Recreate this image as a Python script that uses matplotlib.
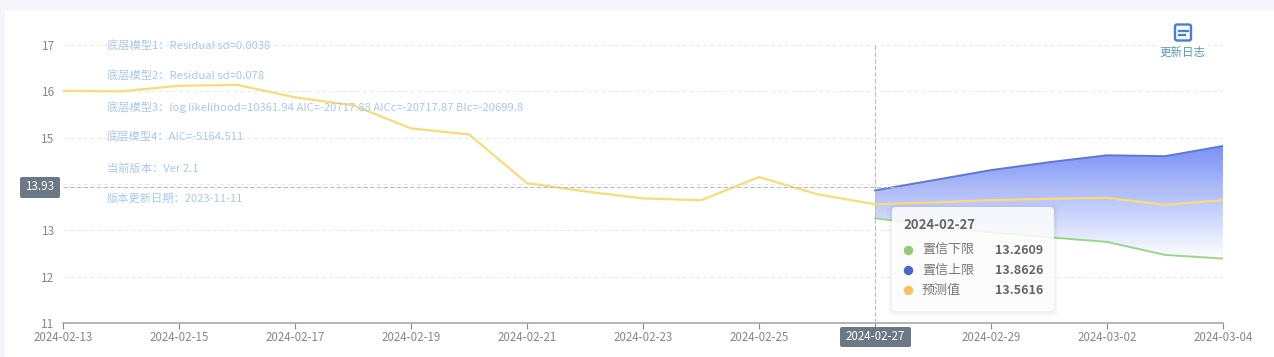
import matplotlib
matplotlib.use("Agg")
import matplotlib.pyplot as plt
import numpy as np
from matplotlib.colors import LinearSegmentedColormap
from matplotlib.patches import FancyBboxPatch, Rectangle

plt.rcParams["font.family"] = ["Noto Sans CJK SC", "DejaVu Sans"]

W, H = 1274, 357

dates = ["2024-02-13", "2024-02-14", "2024-02-15", "2024-02-16", "2024-02-17",
         "2024-02-18", "2024-02-19", "2024-02-20", "2024-02-21", "2024-02-22",
         "2024-02-23", "2024-02-24", "2024-02-25", "2024-02-26", "2024-02-27",
         "2024-02-28", "2024-02-29", "2024-03-01", "2024-03-02", "2024-03-03",
         "2024-03-04"]
forecast = [16.01, 16.00, 16.12, 16.14, 15.87, 15.70, 15.20, 15.07, 14.02, 13.84,
            13.69, 13.65, 14.15, 13.78, 13.5616, 13.60, 13.65, 13.68, 13.70, 13.55,
            13.65]
band_dates = dates[14:]
upper = [13.8626, 14.08, 14.30, 14.47, 14.62, 14.60, 14.82]
lower = [13.2609, 13.10, 12.96, 12.85, 12.75, 12.47, 12.39]

yticks = [11, 12, 13, 14, 15, 16, 17]
# the 14 label sits under the 13.93 pointer tag in the original
ylabels = ["11", "12", "13", "", "15", "16", "17"]
hover_date = "2024-02-27"
hover_y = 13.93

notes = ["底层模型1：Residual sd=0.0038",
         "底层模型2：Residual sd=0.078",
         "底层模型3：log likelihood=10361.94 AIC=-20717.88 AICc=-20717.87 BIc=-20699.8",
         "底层模型4：AIC=-5164.511",
         "当前版本：Ver 2.1",
         "版本更新日期：2023-11-11"]
note_rows = [46.5, 76.5, 107.5, 137.5, 168.5, 198.5]

tooltip_names = ["置信下限", "置信上限", "预测值"]
tooltip_values = ["13.2609", "13.8626", "13.5616"]
tooltip_colors = ["#91cc75", "#4a67c9", "#fac05e"]

fig = plt.figure(figsize=(W / 100, H / 100), dpi=100, facecolor="#f4f6fb")

# pixel-coordinate layer for the page background and overlays
bg = fig.add_axes([0, 0, 1, 1], zorder=0)
bg.set_xlim(0, W)
bg.set_ylim(H, 0)
bg.axis("off")
bg.add_patch(Rectangle((5, 11), W - 5, H - 11, fc="white", ec="none"))

ax = fig.add_axes([63 / W, 1 - 323 / H, 1160 / W, 278 / H], zorder=1)
ax.patch.set_alpha(0)
x = np.arange(len(dates))
bx = x[14:]
ax.set_xlim(0, len(dates) - 1)
ax.set_ylim(11, 17)
for s in ["top", "right", "left"]:
    ax.spines[s].set_visible(False)
ax.spines["bottom"].set_color("#a6a9ad")
ax.spines["bottom"].set_linewidth(1.2)
ax.set_xticks(x[::2])
ax.set_xticklabels(dates[::2], fontsize=8.3, color="#85888c")
ax.set_yticks(yticks)
ax.set_yticklabels(ylabels, fontsize=8.5, color="#85888c")
ax.tick_params(axis="x", length=4, width=0.8, color="#85888c", pad=2)
ax.tick_params(axis="y", length=0, pad=6)
for lbl in ax.get_yticklabels():
    lbl.set_y(lbl.get_position()[1])
ax.grid(axis="y", color="#e6e9ec", linestyle=(0, (4, 3)), linewidth=0.7)
ax.set_axisbelow(True)

# band with a vertical gradient, clipped to the area between the limits
cmap = LinearSegmentedColormap.from_list("band", ["#7a92f6", "#ffffff"])
band = ax.fill_between(bx, lower, upper, color="none")
grad = ax.imshow(np.linspace(0, 1, 256)[:, None], cmap=cmap, aspect="auto",
                 extent=[bx[0], bx[-1], min(lower), max(upper)], zorder=1.5)
grad.set_clip_path(band.get_paths()[0], transform=ax.transData)
ax.set_xlim(0, len(dates) - 1)
ax.set_ylim(11, 17)

ax.plot(bx, lower, color="#9ad58a", lw=1.4, zorder=3)
ax.plot(bx, upper, color="#5f78d6", lw=1.4, zorder=3)
ax.plot(x, forecast, color="#f9dc78", lw=1.6, zorder=4)

ax.axhline(hover_y, color="#b9bcc0", lw=0.8, linestyle=(0, (4, 2)), zorder=5)
ax.axvline(dates.index(hover_date), color="#b9bcc0", lw=0.8, linestyle=(0, (4, 2)), zorder=5)

# overlay: notes, axis pointer labels, tooltip, icon
top = fig.add_axes([0, 0, 1, 1], zorder=2)
top.set_xlim(0, W)
top.set_ylim(H, 0)
top.axis("off")

for note, row in zip(notes, note_rows):
    top.text(107, row, note, fontsize=8.1, color="#a9c8ee", va="center", ha="left")

top.add_patch(FancyBboxPatch((20, 177), 40, 21, boxstyle="round,pad=0,rounding_size=2",
                             fc="#6a7985", ec="none"))
top.text(40, 186.5, f"{hover_y:.2f}", fontsize=8.4, color="white", ha="center", va="center")
top.add_patch(FancyBboxPatch((840, 327), 71, 20, boxstyle="round,pad=0,rounding_size=2",
                             fc="#6a7985", ec="none"))
top.text(875.5, 337, hover_date, fontsize=8.3, color="white", ha="center", va="center")

# tooltip with a soft shadow
for grow, alpha in [(5, 0.012), (3, 0.018), (1.5, 0.025)]:
    top.add_patch(FancyBboxPatch((892 - grow, 207 - grow + 1), 162 + 2 * grow, 104 + 2 * grow,
                                 boxstyle="round,pad=0,rounding_size=5",
                                 fc="black", ec="none", alpha=alpha))
top.add_patch(FancyBboxPatch((892, 207), 162, 104, boxstyle="round,pad=0,rounding_size=4",
                             fc="white", ec="none", alpha=0.86))
top.text(903, 225, hover_date, fontsize=9.5, color="#666666", fontweight="bold", va="center")
for i, (name, val, col) in enumerate(zip(tooltip_names, tooltip_values, tooltip_colors)):
    row = 250 + i * 20
    top.plot([907.5], [row], "o", ms=6.8, color=col, mew=0)
    top.text(922, row, name, fontsize=9.4, color="#777777", va="center")
    top.text(1043, row, val, fontsize=9, color="#666666", fontweight="bold",
             va="center", ha="right")

# update-log icon, on a white patch that interrupts the 17 grid line
top.add_patch(Rectangle((1158, 22), 50, 38, fc="white", ec="none"))
top.add_patch(FancyBboxPatch((1175, 24.5), 16, 16, boxstyle="round,pad=0,rounding_size=2",
                             fc="#f5f8fd", ec="#4a7fd0", lw=1.7))
top.plot([1178.5, 1187.5], [30.5, 30.5], color="#4a7fd0", lw=1.6)
top.plot([1178.5, 1184.5], [34.5, 34.5], color="#4a7fd0", lw=1.6)
top.text(1182.5, 52.5, "更新日志", fontsize=8.3, color="#5b9bb5", ha="center", va="center")

fig.savefig("out.png", dpi=100, facecolor=fig.get_facecolor())
